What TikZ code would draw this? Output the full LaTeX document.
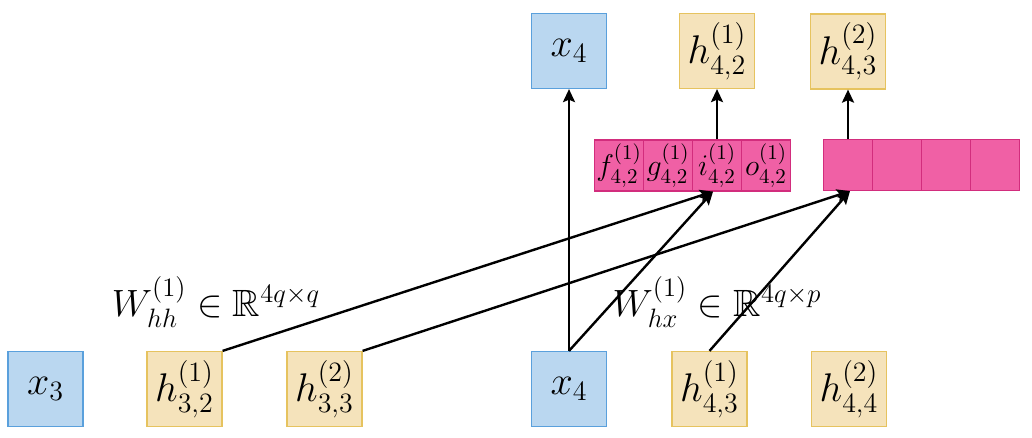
\documentclass[tikz,border=0pt]{standalone}
\usepackage{fix-cm}
\usepackage{amssymb}
\usetikzlibrary{arrows.meta}
\definecolor{bfill}{RGB}{186,215,240}
\definecolor{bdraw}{RGB}{90,160,220}
\definecolor{yfill}{RGB}{245,227,187}
\definecolor{ydraw}{RGB}{230,195,95}
\definecolor{pfill}{RGB}{240,96,165}
\definecolor{pdraw}{RGB}{210,45,125}
\tikzset{
  base/.style={rectangle,inner sep=0pt,minimum width=37.5pt,minimum height=37.5pt,line width=0.6pt,font=\fontsize{20}{22}\selectfont},
  xbox/.style={base,fill=bfill,draw=bdraw},
  hbox/.style={base,fill=yfill,draw=ydraw},
  gate/.style={rectangle,inner sep=0pt,minimum width=24.5pt,minimum height=25.5pt,fill=pfill,draw=pdraw,line width=0.6pt,font=\fontsize{15}{17}\selectfont},
  lbl/.style={inner sep=0pt,font=\fontsize{19}{21}\selectfont},
  arr/.style={-{Stealth[length=6.5pt,width=6pt,inset=1.2pt]},line width=1.2pt}
}
\begin{document}
\begin{tikzpicture}[x=0.5pt,y=-0.5pt]
\useasboundingbox (0,0) rectangle (1032,438);
% bottom row
\node[xbox] (x3) at (45.5,389) {$x_3$};
\node[hbox] (h32) at (184.5,389) {$h^{(1)}_{3,2}$};
\node[hbox] (h33) at (324.5,389) {$h^{(2)}_{3,3}$};
\node[xbox] (x4b) at (569,389) {$x_4$};
\node[hbox] (h43b) at (709.5,389) {$h^{(1)}_{4,3}$};
\node[hbox] (h44) at (849,389) {$h^{(2)}_{4,4}$};
% top row
\node[xbox] (x4t) at (569,51) {$x_4$};
\node[hbox] (h42) at (717,51) {$h^{(1)}_{4,2}$};
\node[hbox] (h43t) at (848,51.5) {$h^{(2)}_{4,3}$};
% gates
\node[gate] (f) at (619,165.5) {$f^{(1)}_{4,2}$};
\node[gate] (g) at (668,165.5) {$g^{(1)}_{4,2}$};
\node[gate] (i) at (717,165.5) {$i^{(1)}_{4,2}$};
\node[gate] (o) at (766,165.5) {$o^{(1)}_{4,2}$};
\node[gate] (p1) at (848,165) {};
\node[gate] (p2) at (897,165) {};
\node[gate] (p3) at (946,165) {};
\node[gate] (p4) at (995,165) {};
% labels
\node[lbl] (whh) at (216,302) {$W^{(1)}_{hh}\in\mathbb{R}^{4q\times q}$};
\node[lbl] (whx) at (717,302) {$W^{(1)}_{hx}\in\mathbb{R}^{4q\times p}$};
% arrows
\draw[arr] (x4b.north) -- (x4t.south);
\draw[arr] (i.north) -- (h42.south);
\draw[arr] (p1.north) -- (h43t.south);
\draw[arr] (h32.north east) -- ([xshift=-2pt]i.south);
\draw[arr] (x4b.north) -- ([xshift=-2pt]i.south);
\draw[arr] (h33.north east) -- ([xshift=1pt]p1.south);
\draw[arr] (h43b.north) -- ([xshift=1pt]p1.south);
\end{tikzpicture}
\end{document}
